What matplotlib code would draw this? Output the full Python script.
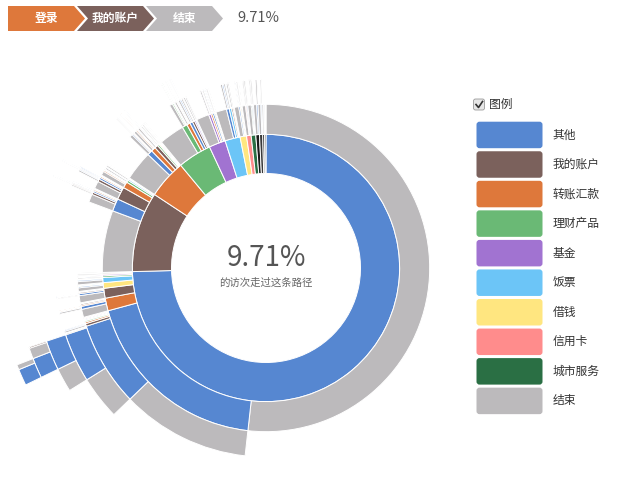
import numpy as np
import matplotlib.pyplot as plt
from matplotlib.patches import Polygon, FancyBboxPatch

plt.rcParams['font.family'] = ['Noto Sans CJK SC', 'DejaVu Sans']

# legend pages and their colours
categories = ['其他', '我的账户', '转账汇款', '理财产品', '基金', '饭票', '借钱', '信用卡', '城市服务', '结束']
colors = ['#5687d1', '#7b615c', '#de783b', '#6ab975', '#a173d1', '#6cc5f7',
          '#ffe680', '#ff8c8c', '#2a6f44', '#bcbabc']
# pages that have no legend entry
extra_pages = ['消息', '设置', '搜索', '客服']
extra_colors = ['#1b1b1b', '#3a3a3a', '#111111', '#555555']

breadcrumb = ['登录', '我的账户', '结束']
breadcrumb_colors = ['#de783b', '#7b615c', '#bcbabc']
percent_text = '9.71%'
center_caption = '的访次走过这条路径'

# visit sequences and how many visits followed each one
paths = [
    '其他-结束',
    '其他-其他-结束',
    '其他-其他-其他-结束',
    '其他-其他-其他-其他-结束',
    '其他-其他-其他-其他-其他-其他-其他',
    '其他-其他-其他-其他-其他-其他-结束',
    '其他-其他-其他-其他-其他-结束',
    '其他-其他-其他-其他-其他-我的账户',
    '其他-其他-其他-我的账户',
    '其他-其他-其他-借钱',
    '其他-其他-我的账户-结束',
    '其他-其他-我的账户-其他',
    '其他-其他-转账汇款',
    '其他-其他-理财产品',
    '其他-其他-借钱',
    '其他-其他-饭票',
    '其他-其他-基金',
    '其他-其他-信用卡',
    '其他-转账汇款-结束',
    '其他-转账汇款-其他-结束',
    '其他-转账汇款-其他-其他',
    '其他-转账汇款-其他-转账汇款',
    '其他-转账汇款-转账汇款',
    '其他-转账汇款-我的账户',
    '其他-转账汇款-借钱',
    '其他-转账汇款-饭票',
    '其他-我的账户-结束',
    '其他-我的账户-其他-结束',
    '其他-我的账户-其他-我的账户',
    '其他-我的账户-其他-其他',
    '其他-我的账户-我的账户',
    '其他-我的账户-转账汇款',
    '其他-我的账户-饭票',
    '其他-借钱-结束',
    '其他-借钱-其他',
    '其他-借钱-借钱',
    '其他-借钱-饭票',
    '其他-饭票-结束',
    '其他-饭票-其他',
    '其他-饭票-饭票',
    '其他-饭票-借钱',
    '其他-理财产品-结束',
    '其他-理财产品-其他',
    '其他-基金-结束',
    '其他-基金-基金',
    '其他-信用卡-结束',
    '其他-城市服务-结束',
    '我的账户-结束',
    '我的账户-其他-结束',
    '我的账户-其他-我的账户-结束',
    '我的账户-其他-我的账户-我的账户-结束',
    '我的账户-其他-我的账户-我的账户-其他',
    '我的账户-其他-其他-结束',
    '我的账户-其他-其他-其他',
    '我的账户-其他-转账汇款',
    '我的账户-其他-理财产品',
    '我的账户-其他-饭票',
    '我的账户-我的账户-结束',
    '我的账户-我的账户-我的账户-结束',
    '我的账户-我的账户-我的账户-其他-结束',
    '我的账户-我的账户-我的账户-其他-其他',
    '我的账户-我的账户-其他-结束',
    '我的账户-我的账户-其他-其他',
    '我的账户-我的账户-转账汇款',
    '我的账户-我的账户-饭票',
    '我的账户-我的账户-借钱',
    '我的账户-转账汇款-结束',
    '我的账户-转账汇款-转账汇款',
    '我的账户-转账汇款-其他',
    '我的账户-转账汇款-我的账户',
    '我的账户-理财产品-结束',
    '我的账户-理财产品-其他',
    '我的账户-饭票-结束',
    '我的账户-基金-结束',
    '我的账户-借钱-结束',
    '转账汇款-结束',
    '转账汇款-其他-结束',
    '转账汇款-其他-其他-结束',
    '转账汇款-其他-其他-其他',
    '转账汇款-其他-转账汇款-结束',
    '转账汇款-其他-转账汇款-其他',
    '转账汇款-其他-我的账户',
    '转账汇款-转账汇款-结束',
    '转账汇款-转账汇款-转账汇款-结束',
    '转账汇款-转账汇款-转账汇款-转账汇款',
    '转账汇款-转账汇款-我的账户',
    '转账汇款-转账汇款-其他',
    '转账汇款-我的账户-结束',
    '转账汇款-我的账户-我的账户-结束',
    '转账汇款-我的账户-我的账户-其他',
    '转账汇款-我的账户-其他',
    '转账汇款-理财产品-结束',
    '转账汇款-理财产品-理财产品',
    '转账汇款-借钱-结束',
    '转账汇款-饭票-结束',
    '转账汇款-基金-结束',
    '转账汇款-信用卡-结束',
    '理财产品-结束',
    '理财产品-理财产品-结束',
    '理财产品-理财产品-理财产品-结束',
    '理财产品-理财产品-理财产品-理财产品',
    '理财产品-理财产品-转账汇款',
    '理财产品-理财产品-其他',
    '理财产品-转账汇款-结束',
    '理财产品-转账汇款-转账汇款-结束',
    '理财产品-转账汇款-转账汇款-理财产品',
    '理财产品-转账汇款-其他',
    '理财产品-其他-结束',
    '理财产品-其他-其他-结束',
    '理财产品-其他-其他-其他',
    '理财产品-我的账户-结束',
    '理财产品-我的账户-我的账户',
    '理财产品-基金-结束',
    '理财产品-饭票-结束',
    '基金-结束',
    '基金-基金-结束',
    '基金-基金-基金',
    '基金-转账汇款-结束',
    '基金-转账汇款-其他',
    '基金-其他-结束',
    '基金-其他-其他',
    '基金-理财产品-结束',
    '基金-我的账户-结束',
    '饭票-结束',
    '饭票-其他-结束',
    '饭票-其他-其他',
    '饭票-饭票-结束',
    '饭票-饭票-饭票',
    '饭票-我的账户-结束',
    '饭票-转账汇款-结束',
    '饭票-借钱-结束',
    '借钱-结束',
    '借钱-其他-结束',
    '借钱-其他-其他',
    '借钱-借钱-结束',
    '借钱-我的账户-结束',
    '信用卡-结束',
    '信用卡-信用卡-结束',
    '信用卡-其他-结束',
    '城市服务-结束',
    '城市服务-城市服务-结束',
    '城市服务-其他-结束',
    '消息-结束',
    '消息-其他-结束',
    '设置-结束',
    '设置-其他-结束',
    '搜索-结束',
    '搜索-其他',
    '客服-结束',
    '客服-其他',
]
counts = [
    3727, 794, 240, 120, 72, 22, 50, 6, 6, 4, 10, 6, 10, 8, 6, 6, 6, 4,
    50, 10, 4, 4, 8, 8, 4, 2,
    44, 6, 4, 2, 8, 4, 2,
    22, 8, 6, 4,
    20, 8, 6, 2,
    8, 4, 6, 4, 8, 6,
    440, 50, 8, 4, 2, 6, 4, 8, 4, 4,
    46, 10, 4, 2, 6, 6, 8, 4, 4,
    26, 8, 6, 4, 10, 6, 10, 6, 3,
    210, 20, 6, 2, 4, 2, 2, 16, 5, 3, 4, 4, 12, 4, 2, 6, 8, 4, 8, 6, 5, 5,
    180, 20, 5, 3, 4, 4, 12, 4, 2, 6, 12, 5, 3, 10, 6, 10, 8,
    90, 10, 6, 8, 4, 6, 6, 8, 6,
    76, 12, 8, 10, 6, 10, 8, 2,
    32, 6, 4, 8, 6,
    24, 8, 8,
    24, 8, 8,
    22, 10, 20, 8, 12, 4, 8, 4,
]

color_of = dict(zip(categories + extra_pages, colors + extra_colors))

# build the hierarchy
tree = {'value': 0, 'children': {}}
for path, n in zip(paths, counts):
    node = tree
    node['value'] += n
    for step in path.split('-'):
        node = node['children'].setdefault(step, {'value': 0, 'children': {}})
        node['value'] += n
total = tree['value']

# partition layout, ring radius grows with sqrt(depth)
R1 = 94.5
starts, widths, bottoms, heights, fills = [], [], [], [], []

def layout(node, start, depth):
    a = start
    for name, child in node['children'].items():
        w = child['value'] / total * 2 * np.pi
        r0, r1 = R1 * np.sqrt(depth), R1 * np.sqrt(depth + 1)
        starts.append(a)
        widths.append(w)
        bottoms.append(r0)
        heights.append(r1 - r0)
        fills.append(color_of[name])
        layout(child, a, depth + 1)
        a += w

layout(tree, 0.0, 1)

W, H = 636, 500
fig = plt.figure(figsize=(W / 100, H / 100), dpi=100, facecolor='white')

cx, cy, rmax = 266, 268, 280
ax = fig.add_axes([(cx - rmax) / W, (H - cy - rmax) / H, 2 * rmax / W, 2 * rmax / H],
                  projection='polar')
ax.set_theta_zero_location('N')
ax.set_theta_direction(-1)
ax.bar(starts, heights, width=widths, bottom=bottoms, align='edge',
       color=fills, edgecolor='white', linewidth=0.7)
ax.set_ylim(0, rmax)
ax.set_axis_off()

# overlay in pixel coordinates for breadcrumb, legend and centre text
ov = fig.add_axes([0, 0, 1, 1])
ov.set_xlim(0, W)
ov.set_ylim(H, 0)
ov.set_axis_off()

bw, bt, bs, by0, bh = 66, 11, 3, 6, 25
for i, (label, c) in enumerate(zip(breadcrumb, breadcrumb_colors)):
    x0 = 8 + i * (bw + bs)
    pts = [(x0, by0), (x0 + bw, by0), (x0 + bw + bt, by0 + bh / 2),
           (x0 + bw, by0 + bh), (x0, by0 + bh)]
    if i > 0:
        pts.append((x0 + bt, by0 + bh / 2))
    ov.add_patch(Polygon(pts, closed=True, facecolor=c, edgecolor='none'))
    ov.text(x0 + (bw + bt) / 2, by0 + bh / 2, label, color='white', fontsize=8.5,
            fontweight='bold', ha='center', va='center')
ov.text(237, by0 + bh / 2, percent_text, color='#555555', fontsize=10.5,
        ha='left', va='center')

ov.text(cx, 258, percent_text, color='#555555', fontsize=20, fontweight='light',
        ha='center', va='center')
ov.text(cx, 283, center_caption, color='#666666', fontsize=7.5, ha='center', va='center')

# legend
ov.add_patch(FancyBboxPatch((473.5, 99), 11, 11, boxstyle='round,pad=0,rounding_size=2',
                            facecolor='#e6e6e6', edgecolor='#9a9a9a', linewidth=0.6))
ov.plot([476, 478.5, 482.5], [104.5, 107.5, 101.5], color='#333333', linewidth=1.2)
ov.text(489, 104, '图例', color='#333333', fontsize=8.5, ha='left', va='center')

for i, (label, c) in enumerate(zip(categories, colors)):
    y0 = 121.7 + i * 29.55
    ov.add_patch(FancyBboxPatch((476.5, y0), 66, 26.5, boxstyle='round,pad=0,rounding_size=3',
                                facecolor=c, edgecolor='none'))
    ov.text(552.5, y0 + 13.25, label, color='#333333', fontsize=8.5, ha='left', va='center')

fig.savefig('out.png', dpi=100, facecolor='white')
